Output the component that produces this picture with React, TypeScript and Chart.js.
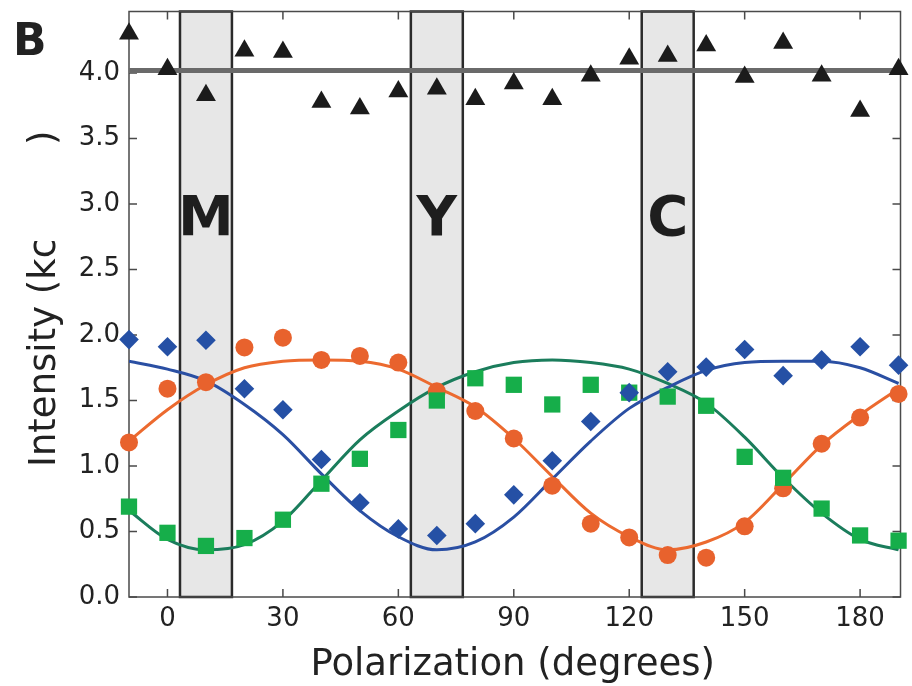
import React, { useEffect, useRef } from 'react';
import { Chart, registerables } from 'chart.js';

Chart.register(...registerables);

// ---- data ----
const angles = [-10, 0, 10, 20, 30, 40, 50, 60, 70, 80, 90, 100, 110, 120, 130, 140, 150, 160, 170, 180, 190];
const totalCounts = [4.30, 4.03, 3.83, 4.17, 4.16, 3.78, 3.73, 3.86, 3.88, 3.80, 3.92, 3.80, 3.98, 4.11, 4.13, 4.21, 3.97, 4.23, 3.98, 3.71, 4.03];
const blueCounts = [1.965, 1.91, 1.96, 1.59, 1.43, 1.05, 0.72, 0.52, 0.47, 0.56, 0.78, 1.04, 1.34, 1.56, 1.72, 1.755, 1.89, 1.69, 1.81, 1.91, 1.77];
const orangeCounts = [1.18, 1.59, 1.64, 1.905, 1.98, 1.81, 1.84, 1.79, 1.57, 1.42, 1.21, 0.85, 0.56, 0.455, 0.32, 0.30, 0.54, 0.83, 1.17, 1.37, 1.55];
const greenCounts = [0.69, 0.49, 0.39, 0.45, 0.59, 0.865, 1.055, 1.275, 1.50, 1.67, 1.62, 1.47, 1.62, 1.56, 1.53, 1.46, 1.07, 0.91, 0.675, 0.47, 0.43];

const fitAngles = [-10, 0, 10, 20, 30, 40, 50, 60, 70, 80, 90, 100, 110, 120, 130, 140, 150, 160, 170, 180, 190];
const blueFit = [1.80, 1.74, 1.65, 1.47, 1.24, 0.94, 0.66, 0.46, 0.36, 0.42, 0.61, 0.90, 1.19, 1.44, 1.60, 1.73, 1.79, 1.80, 1.80, 1.75, 1.63];
const greenFit = [0.66, 0.44, 0.36, 0.40, 0.58, 0.89, 1.20, 1.42, 1.60, 1.72, 1.79, 1.81, 1.79, 1.74, 1.63, 1.48, 1.22, 0.91, 0.64, 0.44, 0.36];
const orangeFit = [1.19, 1.43, 1.62, 1.75, 1.80, 1.81, 1.80, 1.74, 1.60, 1.45, 1.21, 0.92, 0.64, 0.46, 0.36, 0.42, 0.57, 0.86, 1.16, 1.39, 1.59];

const meanLevel = 4.02;
const bandCenters = [10, 70, 130];
const bandLabels = ['M', 'Y', 'C'];
const bandHalfWidth = 6.75;
const labelLevel = 2.76;

const xTicks = [0, 30, 60, 90, 120, 150, 180];
const yTicks = [0, 0.5, 1.0, 1.5, 2.0, 2.5, 3.0, 3.5, 4.0];
const xRange = [-10, 190.5];
const yRange = [0, 4.47];

const xTitle = 'Polarization (degrees)';
const yTitleVisible = 'Intensity (kc';
const yTitleClose = ')';
const panelLabel = 'B';

const FONT = '"DejaVu Sans", "Liberation Sans", Arial, sans-serif';

const pts = (xs: number[], ys: number[]) => xs.map((x, i) => ({ x, y: ys[i] }));

const decorPlugin = {
  id: 'decor',
  beforeDatasetsDraw(chart: any) {
    const ctx = chart.ctx;
    const { left, right, top, bottom } = chart.chartArea;
    const xs = chart.scales.x;
    const ys = chart.scales.y;
    ctx.save();
    // shaded bands
    bandCenters.forEach((c, i) => {
      const x0 = xs.getPixelForValue(c - bandHalfWidth);
      const x1 = xs.getPixelForValue(c + bandHalfWidth);
      ctx.fillStyle = '#e7e7e7';
      ctx.fillRect(x0, top, x1 - x0, bottom - top);
      ctx.strokeStyle = '#2b2b2b';
      ctx.lineWidth = 2.5;
      ctx.strokeRect(x0, top, x1 - x0, bottom - top);
      ctx.fillStyle = '#1e1e1e';
      ctx.font = `bold 56px ${FONT}`;
      ctx.textAlign = 'center';
      ctx.textBaseline = 'alphabetic';
      ctx.fillText(bandLabels[i], (x0 + x1) / 2, ys.getPixelForValue(labelLevel));
    });
    // frame
    ctx.strokeStyle = '#4a4a4a';
    ctx.lineWidth = 1.5;
    ctx.strokeRect(left, top, right - left, bottom - top);
    // inward ticks
    const tl = 8;
    ctx.beginPath();
    xTicks.forEach((v) => {
      const px = xs.getPixelForValue(v);
      ctx.moveTo(px, bottom);
      ctx.lineTo(px, bottom - tl);
      ctx.moveTo(px, top);
      ctx.lineTo(px, top + tl);
    });
    yTicks.forEach((v) => {
      const py = ys.getPixelForValue(v);
      ctx.moveTo(left, py);
      ctx.lineTo(left + tl, py);
      ctx.moveTo(right, py);
      ctx.lineTo(right - tl, py);
    });
    ctx.stroke();
    ctx.restore();
  },
  afterDraw(chart: any) {
    const ctx = chart.ctx;
    const { left, right } = chart.chartArea;
    ctx.save();
    ctx.fillStyle = '#222';
    // x title
    ctx.font = `37px ${FONT}`;
    ctx.textAlign = 'center';
    ctx.textBaseline = 'alphabetic';
    ctx.fillText(xTitle, (left + right) / 2 - 2, 675);
    // panel label
    ctx.font = `bold 44px ${FONT}`;
    ctx.textAlign = 'left';
    ctx.fillText(panelLabel, 13, 55);
    ctx.restore();

    // y title (partly hidden in the original)
    ctx.save();
    ctx.fillStyle = '#222';
    ctx.font = `37px ${FONT}`;
    ctx.beginPath();
    ctx.rect(0, 241, 128, 445);
    ctx.clip();
    ctx.translate(55, 467);
    ctx.rotate(-Math.PI / 2);
    ctx.textAlign = 'left';
    ctx.textBaseline = 'alphabetic';
    ctx.fillText(yTitleVisible, 0, 0);
    ctx.restore();
    ctx.save();
    ctx.fillStyle = '#222';
    ctx.font = `37px ${FONT}`;
    ctx.translate(55, 467);
    ctx.rotate(-Math.PI / 2);
    ctx.textAlign = 'left';
    ctx.textBaseline = 'alphabetic';
    ctx.fillText(yTitleClose, 322, 0);
    ctx.restore();
  },
};

export default function App() {
  const ref = useRef<HTMLCanvasElement | null>(null);

  useEffect(() => {
    if (!ref.current) return;
    const chart = new Chart(ref.current, {
      type: 'scatter',
      data: {
        datasets: [
          {
            label: 'Total',
            data: pts(angles, totalCounts),
            pointStyle: 'triangle',
            pointRadius: 11.5,
            backgroundColor: '#1b1b1b',
            borderColor: '#1b1b1b',
            borderWidth: 0,
            clip: false,
          } as any,
          {
            label: 'Blue',
            data: pts(angles, blueCounts),
            pointStyle: 'rectRot',
            pointRadius: 9.8,
            backgroundColor: '#2550a5',
            borderColor: '#2550a5',
            borderWidth: 0,
            clip: false,
          },
          {
            label: 'Green',
            data: pts(angles, greenCounts),
            pointStyle: 'rect',
            pointRadius: 11.5,
            backgroundColor: '#16ae4a',
            borderColor: '#16ae4a',
            borderWidth: 0,
            clip: false,
          },
          {
            label: 'Orange',
            data: pts(angles, orangeCounts),
            pointStyle: 'circle',
            pointRadius: 9,
            backgroundColor: '#e8622d',
            borderColor: '#e8622d',
            borderWidth: 0,
            clip: false,
          },
          {
            label: 'Mean',
            data: [
              { x: xRange[0], y: meanLevel },
              { x: xRange[1], y: meanLevel },
            ],
            showLine: true,
            pointRadius: 0,
            borderColor: '#6a6a6a',
            borderWidth: 5,
          },
          {
            label: 'Blue fit',
            data: pts(fitAngles, blueFit),
            showLine: true,
            pointRadius: 0,
            borderColor: '#2a4fa3',
            borderWidth: 3,
            cubicInterpolationMode: 'monotone',
          },
          {
            label: 'Green fit',
            data: pts(fitAngles, greenFit),
            showLine: true,
            pointRadius: 0,
            borderColor: '#1b7d5c',
            borderWidth: 3,
            cubicInterpolationMode: 'monotone',
          },
          {
            label: 'Orange fit',
            data: pts(fitAngles, orangeFit),
            showLine: true,
            pointRadius: 0,
            borderColor: '#ec6a2f',
            borderWidth: 3,
            cubicInterpolationMode: 'monotone',
          },
        ],
      },
      options: {
        responsive: false,
        animation: false,
        events: [],
        layout: { padding: { top: 8, right: 11, left: 0, bottom: 0 } },
        plugins: { legend: { display: false }, tooltip: { enabled: false }, title: { display: false } },
        scales: {
          x: {
            type: 'linear',
            min: xRange[0],
            max: xRange[1],
            grid: { display: false, drawTicks: false },
            border: { display: false },
            ticks: {
              font: { family: FONT, size: 26 },
              color: '#222',
              padding: 7,
              maxRotation: 0,
              autoSkip: false,
            },
            afterBuildTicks: (s: any) => {
              s.ticks = xTicks.map((v) => ({ value: v }));
            },
            afterFit: (s: any) => {
              s.height = 89;
              s.paddingLeft = 0;
              s.paddingRight = 0;
            },
          },
          y: {
            type: 'linear',
            min: yRange[0],
            max: yRange[1],
            grid: { display: false, drawTicks: false },
            border: { display: false },
            ticks: {
              font: { family: FONT, size: 26 },
              color: '#222',
              padding: 9,
              autoSkip: false,
              callback: (v: any) => Number(v).toFixed(1),
            },
            afterBuildTicks: (s: any) => {
              s.ticks = yTicks.map((v) => ({ value: v }));
            },
            afterFit: (s: any) => {
              s.width = 129;
              s.paddingTop = 0;
              s.paddingBottom = 0;
            },
          },
        },
      },
      plugins: [decorPlugin],
    });
    return () => chart.destroy();
  }, []);

  return (
    <div style={{ position: 'fixed', left: 0, top: 0, width: 912, height: 686, background: '#fff' }}>
      <canvas ref={ref} width={912} height={686} style={{ display: 'block' }} />
    </div>
  );
}
